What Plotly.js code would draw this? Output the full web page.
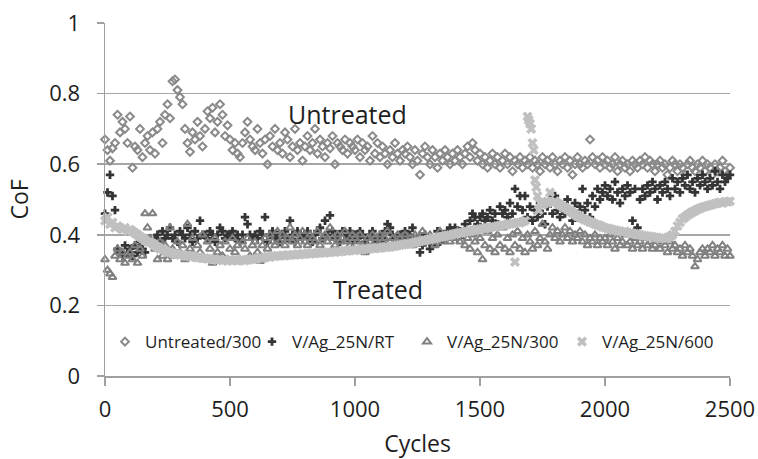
<!DOCTYPE html>
<html>
<head>
<meta charset="utf-8">
<script src="https://cdn.plot.ly/plotly-3.0.1.min.js"></script>
<style>html,body{margin:0;padding:0;background:#fff;}#chart{width:758px;height:459px;}</style>
</head>
<body>
<div id="chart"></div>
<script>
// Cycle index shared by three series (every 10 cycles)
const cycles = [0,10,20,30,40,50,60,70,80,90,100,110,120,130,140,150,160,170,180,190,200,210,220,230,240,250,260,270,280,290,300,310,320,330,340,350,360,370,380,390,400,410,420,430,440,450,460,470,480,490,500,510,520,530,540,550,560,570,580,590,600,610,620,630,640,650,660,670,680,690,700,710,720,730,740,750,760,770,780,790,800,810,820,830,840,850,860,870,880,890,900,910,920,930,940,950,960,970,980,990,1000,1010,1020,1030,1040,1050,1060,1070,1080,1090,1100,1110,1120,1130,1140,1150,1160,1170,1180,1190,1200,1210,1220,1230,1240,1250,1260,1270,1280,1290,1300,1310,1320,1330,1340,1350,1360,1370,1380,1390,1400,1410,1420,1430,1440,1450,1460,1470,1480,1490,1500,1510,1520,1530,1540,1550,1560,1570,1580,1590,1600,1610,1620,1630,1640,1650,1660,1670,1680,1690,1700,1710,1720,1730,1740,1750,1760,1770,1780,1790,1800,1810,1820,1830,1840,1850,1860,1870,1880,1890,1900,1910,1920,1930,1940,1950,1960,1970,1980,1990,2000,2010,2020,2030,2040,2050,2060,2070,2080,2090,2100,2110,2120,2130,2140,2150,2160,2170,2180,2190,2200,2210,2220,2230,2240,2250,2260,2270,2280,2290,2300,2310,2320,2330,2340,2350,2360,2370,2380,2390,2400,2410,2420,2430,2440,2450,2460,2470,2480,2490,2500];

const cofUntreated300 = [0.67,0.64,0.61,0.645,0.66,0.74,0.69,0.72,0.70,0.66,
0.735,0.59,0.65,0.64,0.70,0.62,0.66,0.68,0.64,0.69,
0.63,0.70,0.72,0.66,0.74,0.77,0.73,0.835,0.84,0.81,
0.79,0.77,0.70,0.66,0.635,0.69,0.67,0.72,0.68,0.65,
0.70,0.75,0.73,0.76,0.69,0.72,0.77,0.74,0.68,0.71,
0.67,0.64,0.66,0.63,0.62,0.66,0.69,0.72,0.67,0.65,
0.64,0.70,0.66,0.63,0.67,0.60,0.68,0.65,0.70,0.64,
0.66,0.63,0.69,0.67,0.62,0.65,0.70,0.64,0.66,0.61,
0.65,0.68,0.64,0.66,0.70,0.63,0.67,0.65,0.62,0.66,
0.645,0.68,0.60,0.66,0.65,0.64,0.67,0.63,0.66,0.65,
0.64,0.67,0.62,0.66,0.64,0.65,0.61,0.68,0.63,0.66,
0.62,0.65,0.63,0.60,0.64,0.62,0.66,0.63,0.61,0.64,
0.63,0.65,0.62,0.60,0.64,0.61,0.57,0.63,0.65,0.62,
0.60,0.64,0.62,0.59,0.63,0.61,0.64,0.62,0.60,0.63,
0.61,0.64,0.62,0.60,0.63,0.65,0.62,0.66,0.64,0.61,
0.63,0.60,0.62,0.59,0.61,0.63,0.60,0.62,0.59,0.61,
0.63,0.60,0.62,0.58,0.61,0.60,0.62,0.59,0.61,0.60,
0.62,0.59,0.61,0.60,0.58,0.62,0.60,0.61,0.59,0.62,
0.60,0.58,0.61,0.60,0.62,0.59,0.61,0.57,0.60,0.62,
0.60,0.59,0.61,0.60,0.67,0.62,0.60,0.61,0.59,0.62,
0.60,0.61,0.59,0.60,0.62,0.58,0.60,0.61,0.59,0.60,
0.58,0.61,0.60,0.59,0.61,0.60,0.62,0.59,0.61,0.60,
0.58,0.60,0.61,0.59,0.60,0.57,0.59,0.61,0.60,0.58,
0.60,0.59,0.57,0.60,0.61,0.59,0.58,0.60,0.59,0.61,
0.58,0.60,0.59,0.57,0.60,0.58,0.59,0.61,0.58,0.57,
0.59];

const cofRT = [0.46,0.52,0.57,0.51,0.47,0.36,0.35,0.34,0.37,0.35,
0.36,0.34,0.37,0.35,0.38,0.36,0.35,0.38,0.39,0.37,
0.39,0.40,0.38,0.41,0.39,0.40,0.42,0.39,0.40,0.38,
0.41,0.40,0.39,0.42,0.40,0.38,0.41,0.39,0.44,0.40,
0.40,0.39,0.41,0.40,0.38,0.40,0.42,0.41,0.39,0.40,
0.40,0.41,0.39,0.40,0.38,0.40,0.45,0.43,0.40,0.39,
0.40,0.39,0.41,0.40,0.45,0.38,0.40,0.41,0.39,0.40,
0.38,0.40,0.41,0.39,0.44,0.40,0.38,0.41,0.40,0.39,
0.40,0.41,0.39,0.38,0.40,0.41,0.42,0.39,0.44,0.40,
0.455,0.41,0.39,0.40,0.38,0.41,0.40,0.39,0.41,0.38,
0.40,0.39,0.41,0.40,0.38,0.39,0.40,0.41,0.39,0.38,
0.40,0.39,0.41,0.43,0.42,0.40,0.39,0.38,0.40,0.39,
0.41,0.39,0.40,0.42,0.38,0.39,0.35,0.37,0.40,0.39,
0.36,0.37,0.39,0.41,0.38,0.40,0.39,0.41,0.42,0.40,
0.42,0.39,0.41,0.40,0.43,0.41,0.44,0.46,0.45,0.43,
0.45,0.46,0.44,0.45,0.47,0.44,0.46,0.43,0.48,0.46,
0.47,0.45,0.49,0.46,0.53,0.48,0.51,0.47,0.51,0.45,
0.48,0.44,0.47,0.45,0.49,0.46,0.43,0.48,0.50,0.46,
0.51,0.47,0.45,0.48,0.46,0.50,0.47,0.44,0.49,0.46,
0.48,0.53,0.47,0.49,0.45,0.51,0.48,0.53,0.50,0.52,
0.54,0.51,0.53,0.50,0.55,0.52,0.49,0.53,0.51,0.54,
0.52,0.44,0.53,0.42,0.50,0.53,0.51,0.54,0.52,0.55,
0.53,0.50,0.54,0.52,0.55,0.53,0.51,0.56,0.53,0.55,
0.52,0.56,0.54,0.57,0.53,0.55,0.52,0.56,0.54,0.57,
0.55,0.53,0.56,0.54,0.58,0.55,0.53,0.57,0.55,0.56,
0.57];

const cof300 = [0.33,0.30,0.29,0.28,0.34,0.36,0.33,0.35,0.32,0.34,
0.35,0.33,0.37,0.32,0.36,0.34,0.46,0.42,0.39,0.46,
0.36,0.33,0.38,0.34,0.37,0.33,0.42,0.36,0.34,0.38,
0.35,0.37,0.33,0.43,0.36,0.39,0.34,0.37,0.35,0.40,
0.33,0.38,0.36,0.32,0.39,0.35,0.37,0.34,0.38,0.33,
0.36,0.39,0.35,0.37,0.33,0.38,0.36,0.39,0.34,0.37,
0.38,0.35,0.325,0.37,0.39,0.36,0.40,0.38,0.37,0.41,
0.38,0.40,0.37,0.39,0.42,0.38,0.40,0.37,0.39,0.41,
0.38,0.37,0.40,0.39,0.38,0.41,0.37,0.39,0.40,0.38,
0.42,0.39,0.37,0.40,0.38,0.39,0.41,0.38,0.37,0.40,
0.39,0.38,0.40,0.37,0.35,0.39,0.38,0.40,0.39,0.37,
0.40,0.38,0.39,0.41,0.38,0.39,0.37,0.40,0.39,0.38,
0.40,0.38,0.39,0.37,0.40,0.38,0.39,0.41,0.38,0.39,
0.40,0.38,0.37,0.39,0.41,0.38,0.40,0.39,0.38,0.40,
0.39,0.41,0.38,0.40,0.37,0.39,0.36,0.40,0.38,0.35,
0.39,0.33,0.37,0.41,0.36,0.39,0.35,0.40,0.37,0.42,
0.36,0.39,0.35,0.40,0.37,0.41,0.36,0.39,0.35,0.40,
0.38,0.36,0.41,0.37,0.39,0.43,0.38,0.36,0.40,0.42,
0.39,0.41,0.38,0.40,0.42,0.39,0.41,0.38,0.40,0.39,
0.41,0.38,0.40,0.37,0.39,0.38,0.40,0.37,0.39,0.38,
0.39,0.37,0.40,0.38,0.36,0.39,0.37,0.38,0.40,0.37,
0.38,0.36,0.39,0.37,0.38,0.36,0.39,0.37,0.38,0.36,
0.37,0.39,0.36,0.38,0.37,0.35,0.38,0.36,0.37,0.35,
0.36,0.34,0.37,0.35,0.36,0.34,0.31,0.33,0.35,0.36,
0.34,0.36,0.35,0.37,0.34,0.36,0.35,0.37,0.34,0.36,
0.34];

// V/Ag_25N/600 has extra readings around the spike near 1700 cycles
const cycles600 = [0,10,20,30,40,50,60,70,80,90,100,110,120,130,140,150,160,170,180,190,200,210,220,230,240,250,260,270,280,290,300,310,320,330,340,350,360,370,380,390,400,410,420,430,440,450,460,470,480,490,500,510,520,530,540,550,560,570,580,590,600,610,620,630,640,650,660,670,680,690,700,710,720,730,740,750,760,770,780,790,800,810,820,830,840,850,860,870,880,890,900,910,920,930,940,950,960,970,980,990,1000,1010,1020,1030,1040,1050,1060,1070,1080,1090,1100,1110,1120,1130,1140,1150,1160,1170,1180,1190,1200,1210,1220,1230,1240,1250,1260,1270,1280,1290,1300,1310,1320,1330,1340,1350,1360,1370,1380,1390,1400,1410,1420,1430,1440,1450,1460,1470,1480,1490,1500,1510,1520,1530,1540,1550,1560,1570,1580,1590,1600,1610,1620,1630,1640,1650,1660,1670,1680,1690,1695,1700,1705,1710,1715,1720,1725,1730,1735,1740,1750,1760,1770,1780,1790,1800,1810,1820,1830,1840,1850,1860,1870,1880,1890,1900,1910,1920,1930,1940,1950,1960,1970,1980,1990,2000,2010,2020,2030,2040,2050,2060,2070,2080,2090,2100,2110,2120,2130,2140,2150,2160,2170,2180,2190,2200,2210,2220,2230,2240,2250,2260,2270,2280,2290,2300,2310,2320,2330,2340,2350,2360,2370,2380,2390,2400,2410,2420,2430,2440,2450,2460,2470,2480,2490,2500];

const cof600 = [0.44,0.45,0.43,0.435,0.42,0.425,0.42,0.415,0.42,0.41,
0.415,0.41,0.405,0.40,0.395,0.39,0.385,0.38,0.38,0.375,
0.37,0.365,0.36,0.36,0.355,0.35,0.35,0.348,0.345,0.345,
0.343,0.345,0.34,0.342,0.338,0.34,0.337,0.335,0.336,0.333,
0.334,0.332,0.333,0.33,0.331,0.328,0.33,0.327,0.329,0.326,
0.328,0.327,0.329,0.326,0.328,0.33,0.327,0.329,0.33,0.332,
0.33,0.333,0.335,0.333,0.336,0.338,0.337,0.34,0.339,0.341,
0.34,0.342,0.341,0.343,0.342,0.344,0.343,0.345,0.344,0.346,
0.345,0.347,0.346,0.348,0.347,0.349,0.348,0.35,0.349,0.351,
0.35,0.352,0.351,0.353,0.352,0.354,0.355,0.354,0.356,0.357,
0.356,0.358,0.357,0.359,0.36,0.359,0.361,0.362,0.361,0.363,
0.362,0.364,0.365,0.364,0.366,0.367,0.368,0.37,0.371,0.372,
0.373,0.375,0.374,0.377,0.378,0.38,0.381,0.383,0.384,0.386,
0.387,0.389,0.39,0.392,0.393,0.395,0.396,0.398,0.399,0.401,
0.402,0.404,0.405,0.406,0.408,0.409,0.411,0.412,0.414,0.415,
0.416,0.418,0.417,0.42,0.421,0.423,0.422,0.425,0.426,0.428,
0.427,0.43,0.431,0.432,0.323,0.435,0.434,0.437,0.44,
0.735,0.725,0.715,0.70,0.66,0.64,0.555,0.535,0.51,0.47,
0.49,0.485,0.49,0.495,0.52,0.49,
0.495,0.49,0.485,0.48,0.478,0.472,0.468,0.462,0.458,0.452,
0.449,0.446,0.442,0.44,0.436,0.434,0.43,0.428,0.426,0.422,
0.42,0.418,0.417,0.414,0.413,0.411,0.41,0.408,0.41,0.406,
0.405,0.404,0.403,0.401,0.40,0.398,0.397,0.396,0.395,0.394,
0.393,0.392,0.39,0.391,0.39,0.392,0.395,0.40,0.41,0.425,
0.435,0.445,0.45,0.456,0.46,0.465,0.468,0.472,0.475,0.478,
0.48,0.482,0.484,0.486,0.488,0.49,0.492,0.49,0.494,0.493,
0.495];

const seriesNames = ['Untreated/300','V/Ag_25N/RT','V/Ag_25N/300','V/Ag_25N/600'];
const xTickVals = [0,500,1000,1500,2000,2500];
const yTickVals = [0,0.2,0.4,0.6,0.8,1];

const FONT = '"Open Sans", "Noto Sans", sans-serif';

const traces = [
  {x: cycles, y: cofUntreated300, name: seriesNames[0], type: 'scatter', mode: 'markers', cliponaxis: false, legendwidth: 102,
   marker: {symbol: 'diamond-open', size: 6, color: '#8a8a8a', line: {width: 2, color: '#8a8a8a'}}},
  {x: cycles, y: cofRT, name: seriesNames[1], type: 'scatter', mode: 'markers', cliponaxis: false, legendwidth: 110,
   marker: {symbol: 'cross', size: 7, color: '#343434'}},
  {x: cycles, y: cof300, name: seriesNames[2], type: 'scatter', mode: 'markers', cliponaxis: false, legendwidth: 110,
   marker: {symbol: 'triangle-up-open', size: 7, color: '#808080', line: {width: 2, color: '#808080'}}},
  {x: cycles600, y: cof600, name: seriesNames[3], type: 'scatter', mode: 'markers', cliponaxis: false, legendwidth: 116,
   marker: {symbol: 'x', size: 9, color: '#c0c0c0'}}
];

const layout = {
  width: 758, height: 459,
  margin: {l: 105, r: 28, t: 23, b: 83, pad: 0},
  paper_bgcolor: '#ffffff', plot_bgcolor: '#ffffff',
  font: {family: FONT, size: 22, color: '#1e1e1e'},
  showlegend: true,
  legend: {orientation: 'h', x: 0, y: 0.096, xanchor: 'left', yanchor: 'middle', itemsizing: 'trace',
           font: {family: FONT, size: 17, color: '#1e1e1e'}, bgcolor: 'rgba(0,0,0,0)', borderwidth: 0},
  xaxis: {range: [0, 2500], tickvals: xTickVals, ticks: 'outside', ticklen: 8, tickwidth: 1.5, tickcolor: '#a0a0a0',
          showline: true, linecolor: '#a0a0a0', linewidth: 1.5, showgrid: false, zeroline: false,
          ticklabelstandoff: 5,
          tickfont: {family: FONT, size: 22, color: '#1e1e1e'},
          title: {text: 'Cycles', font: {family: FONT, size: 23, color: '#1e1e1e'}, standoff: 16}},
  yaxis: {range: [0, 1], tickvals: yTickVals, ticks: 'outside', ticklen: 7, tickwidth: 1.5, tickcolor: '#a0a0a0',
          showline: true, linecolor: '#a0a0a0', linewidth: 1.5, showgrid: true, gridcolor: '#a6a6a6', gridwidth: 1.5,
          zeroline: false, ticklabelstandoff: 12, tickfont: {family: FONT, size: 22, color: '#1e1e1e'},
          title: {text: 'CoF', font: {family: FONT, size: 23, color: '#1e1e1e'}, standoff: 14}},
  annotations: [
    {x: 968, y: 0.742, xref: 'x', yref: 'y', text: 'Untreated', showarrow: false,
     font: {family: FONT, size: 25, color: '#1e1e1e'}},
    {x: 1092, y: 0.246, xref: 'x', yref: 'y', text: 'Treated', showarrow: false,
     font: {family: FONT, size: 25, color: '#1e1e1e'}}
  ]
};

Plotly.newPlot('chart', traces, layout, {displayModeBar: false, staticPlot: true});
</script>
</body>
</html>
